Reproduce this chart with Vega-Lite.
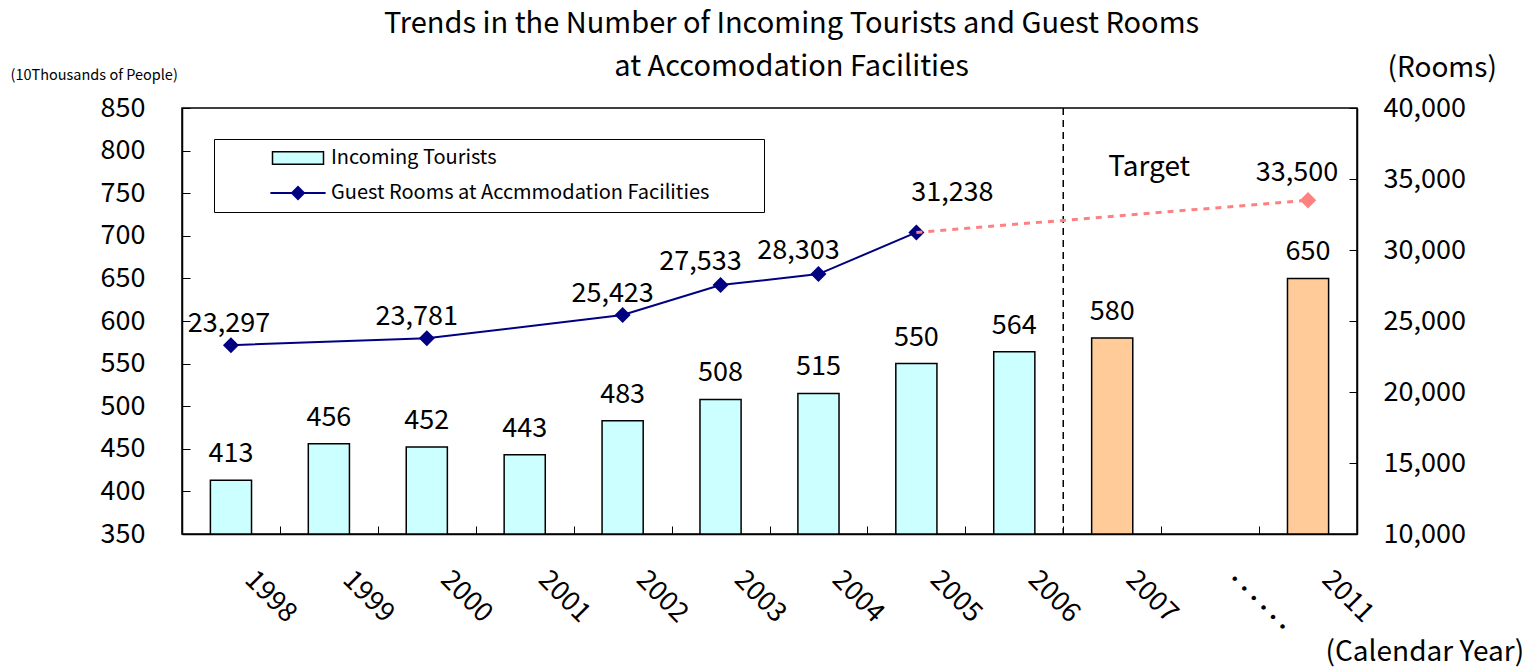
{
  "$schema": "https://vega.github.io/schema/vega-lite/v6.json",
  "width": 1175,
  "height": 426,
  "autosize": "none",
  "padding": {"left": 182, "top": 108, "right": 171, "bottom": 135},
  "background": "white",
  "config": {
    "font": "Noto Sans CJK JP",
    "view": {"stroke": "black", "strokeWidth": 1.5},
    "axis": {"domainColor": "black", "tickColor": "black", "labelColor": "black", "titleColor": "black", "grid": false, "labelFont": "Noto Sans CJK JP", "titleFont": "Noto Sans CJK JP", "titleFontWeight": "normal"},
    "text": {"font": "Noto Sans CJK JP", "fontSize": 27, "color": "black"}
  },
  "title": {
    "text": ["Trends in the Number of Incoming Tourists and Guest Rooms", "at Accomodation Facilities"],
    "fontSize": 29,
    "fontWeight": "normal",
    "font": "Noto Sans CJK JP",
    "color": "black",
    "anchor": "middle",
    "dx": 22,
    "offset": -28,
    "lineHeight": 43
  },
  "data": {
    "values": [
      {"year": "1998", "tourists": 413, "rooms": 23297, "plan": null, "kind": "actual"},
      {"year": "1999", "tourists": 456, "rooms": null, "plan": null, "kind": "actual"},
      {"year": "2000", "tourists": 452, "rooms": 23781, "plan": null, "kind": "actual"},
      {"year": "2001", "tourists": 443, "rooms": null, "plan": null, "kind": "actual"},
      {"year": "2002", "tourists": 483, "rooms": 25423, "plan": null, "kind": "actual"},
      {"year": "2003", "tourists": 508, "rooms": 27533, "plan": null, "kind": "actual"},
      {"year": "2004", "tourists": 515, "rooms": 28303, "plan": null, "kind": "actual"},
      {"year": "2005", "tourists": 550, "rooms": 31238, "plan": 31238, "kind": "actual"},
      {"year": "2006", "tourists": 564, "rooms": null, "plan": null, "kind": "actual"},
      {"year": "2007", "tourists": 580, "rooms": null, "plan": null, "kind": "target"},
      {"year": "…", "tourists": null, "rooms": null, "plan": null, "kind": "gap"},
      {"year": "2011", "tourists": 650, "rooms": null, "plan": 33500, "kind": "target"}
    ]
  },
  "encoding": {
    "x": {
      "field": "year",
      "type": "nominal",
      "sort": null,
      "scale": {"domain": ["1998", "1999", "2000", "2001", "2002", "2003", "2004", "2005", "2006", "2007", "…", "2011"], "paddingInner": 0, "paddingOuter": 0},
      "axis": {
        "title": "(Calendar Year)",
        "titleFontSize": 28,
        "titleAngle": 0,
        "titleAlign": "left",
        "titleBaseline": "middle",
        "titleX": 1143,
        "titleY": 118,
        "labelAngle": 45,
        "labelAlign": "left",
        "labelBaseline": "top",
        "labelFontSize": 27,
        "labelPadding": 40,
        "labelOffset": 27,
        "labelExpr": "datum.value == '…' ? '･･････' : datum.value",
        "tickBand": "extent",
        "tickSize": -8,
        "domainWidth": 1.5
      }
    }
  },
  "layer": [
    {
      "encoding": {
        "y": {
          "field": "tourists",
          "type": "quantitative",
          "scale": {"domain": [350, 850], "zero": false, "nice": false},
          "axis": {
            "values": [350, 400, 450, 500, 550, 600, 650, 700, 750, 800, 850],
            "labelFontSize": 27,
            "tickSize": -8,
            "labelPadding": 45,
            "domainWidth": 1.5,
            "title": "(10Thousands of People)",
            "titleFontSize": 14.5,
            "titleAngle": 0,
            "titleAlign": "left",
            "titleBaseline": "middle",
            "titleX": -172,
            "titleY": -33
          }
        }
      },
      "layer": [
        {
          "transform": [{"filter": "datum.kind == 'actual'"}],
          "mark": {"type": "bar", "stroke": "black", "strokeWidth": 1.5, "width": {"band": 0.42}},
          "encoding": {
            "y2": {"datum": 350},
            "fill": {
              "datum": "Incoming Tourists",
              "scale": {"domain": ["Incoming Tourists", "Guest Rooms at Accmmodation Facilities"], "range": ["#CCFFFF", "#000080"]},
              "legend": {
                "title": null,
                "orient": "none",
                "legendX": 32,
                "legendY": 31,
                "padding": 9,
                "strokeColor": "black",
                "fillColor": "white",
                "symbolOffset": 65,
                "symbolSize": 144,
                "symbolStrokeWidth": 1.5,
                "labelOffset": 23,
                "labelFontSize": 20,
                "labelFont": "Noto Sans CJK JP",
                "labelColor": "black",
                "labelLimit": 800,
                "rowPadding": 15,
                "labelExpr": "datum.value == 'Incoming Tourists' ? datum.label : datum.label + '\u2800\u2800\u2800'",
                "encoding": {
                  "symbols": {
                    "shape": {"value": {"expr": "datum.value == 'Incoming Tourists' ? 'M-4.25,-1.05H4.25V1.05H-4.25Z' : 'M-4.6,0H4.6M0,-1L1,0L0,1L-1,0Z'"}},
                    "stroke": {"value": {"expr": "datum.value == 'Incoming Tourists' ? '#000000' : '#000080'"}},
                    "strokeWidth": {"value": {"expr": "datum.value == 'Incoming Tourists' ? 1.5 : 2"}},
                    "opacity": {"value": 1},
                    "fillOpacity": {"value": 1},
                    "strokeOpacity": {"value": 1}
                  }
                }
              }
            }
          }
        },
        {
          "transform": [{"filter": "datum.kind == 'target'"}],
          "mark": {"type": "bar", "stroke": "black", "strokeWidth": 1.5, "fill": "#FFCC99", "width": {"band": 0.42}},
          "encoding": {"y2": {"datum": 350}}
        },
        {
          "transform": [{"filter": "datum.tourists != null"}],
          "mark": {"type": "text", "baseline": "middle", "align": "center", "dy": -26},
          "encoding": {"text": {"field": "tourists", "type": "quantitative"}}
        },
        {
          "mark": {"type": "rule", "stroke": "black", "strokeWidth": 1.5, "strokeDash": [7, 5]},
          "transform": [{"filter": "datum.year == '2007'"}],
          "encoding": {"x": {"field": "year", "type": "nominal", "bandPosition": 0}, "y": null}
        },
        {
          "transform": [{"filter": "datum.year == '2007'"}],
          "mark": {"type": "text", "baseline": "middle", "align": "center", "dx": 37, "text": "Target", "fontSize": 28},
          "encoding": {"y": {"datum": 780}}
        }
      ]
    },
    {
      "encoding": {
        "y": {
          "field": "rooms",
          "type": "quantitative",
          "scale": {"domain": [10000, 40000], "zero": false, "nice": false},
          "axis": {
            "orient": "right",
            "values": [10000, 15000, 20000, 25000, 30000, 35000, 40000],
            "labelExpr": "format(datum.value, ',')",
            "labelFontSize": 27,
            "tickSize": -8,
            "labelPadding": 34,
            "domainWidth": 1.5,
            "title": "(Rooms)",
            "titleFontSize": 28,
            "titleAngle": 0,
            "titleAlign": "left",
            "titleBaseline": "middle",
            "titleX": 30,
            "titleY": -40
          }
        }
      },
      "layer": [
        {
          "transform": [{"filter": "datum.rooms != null"}],
          "mark": {"type": "line", "strokeWidth": 2, "color": "#000080", "point": {"filled": true, "shape": "diamond", "size": 256, "color": "#000080"}},
          "encoding": {}
        },
        {
          "transform": [{"filter": "datum.plan != null"}],
          "mark": {"type": "line", "stroke": "#FF8080", "strokeWidth": 3, "strokeDash": [6, 6]},
          "encoding": {"y": {"field": "plan", "type": "quantitative"}}
        },
        {
          "transform": [{"filter": "datum.year == '2011'"}],
          "mark": {"type": "point", "shape": "diamond", "filled": true, "size": 270, "color": "#FF8080", "opacity": 1},
          "encoding": {"y": {"field": "plan", "type": "quantitative"}}
        },
        {
          "transform": [{"filter": "datum.year == '1998'"}],
          "mark": {"type": "text", "baseline": "middle", "align": "center", "dx": -2, "dy": -21},
          "encoding": {"text": {"field": "rooms", "type": "quantitative", "format": ","}}
        },
        {
          "transform": [{"filter": "datum.year == '2000' || datum.year == '2002'"}],
          "mark": {"type": "text", "baseline": "middle", "align": "center", "dx": -10, "dy": -21},
          "encoding": {"text": {"field": "rooms", "type": "quantitative", "format": ","}}
        },
        {
          "transform": [{"filter": "datum.year == '2003' || datum.year == '2004'"}],
          "mark": {"type": "text", "baseline": "middle", "align": "center", "dx": -20, "dy": -23},
          "encoding": {"text": {"field": "rooms", "type": "quantitative", "format": ","}}
        },
        {
          "transform": [{"filter": "datum.year == '2005'"}],
          "mark": {"type": "text", "baseline": "middle", "align": "center", "dx": 36, "dy": -39},
          "encoding": {"text": {"field": "rooms", "type": "quantitative", "format": ","}}
        },
        {
          "transform": [{"filter": "datum.year == '2011'"}],
          "mark": {"type": "text", "baseline": "middle", "align": "center", "dx": -11, "dy": -27},
          "encoding": {"y": {"field": "plan", "type": "quantitative"}, "text": {"field": "plan", "type": "quantitative", "format": ","}}
        }
      ]
    }
  ],
  "resolve": {"scale": {"y": "independent"}}
}
